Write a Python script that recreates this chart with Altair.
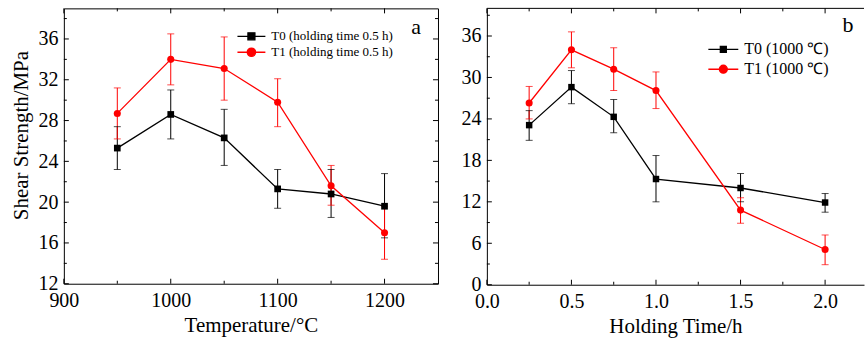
import altair as alt
import pandas as pd

# ---------------- Panel a data (temperature) ----------------
temp = [950, 1000, 1050, 1100, 1150, 1200]
a_t0 = [25.3, 28.6, 26.3, 21.3, 20.8, 19.6]
a_t0_lo = [23.2, 26.2, 23.6, 19.4, 18.5, 16.5]
a_t0_hi = [27.4, 31.0, 29.1, 23.2, 23.2, 22.8]
a_t1 = [28.7, 34.0, 33.1, 29.8, 21.6, 17.0]
a_t1_lo = [26.2, 31.5, 30.0, 27.4, 19.7, 14.4]
a_t1_hi = [31.2, 36.5, 36.2, 32.1, 23.6, 19.6]
a_labels = ["T0 (holding time 0.5 h)", "T1 (holding time 0.5 h)"]

# ---------------- Panel b data (holding time) ----------------
hold = [0.25, 0.5, 0.75, 1.0, 1.5, 2.0]
b_t0 = [23.1, 28.6, 24.3, 15.3, 14.0, 11.9]
b_t0_lo = [20.9, 26.2, 22.0, 12.0, 12.0, 10.5]
b_t0_hi = [25.2, 31.0, 26.8, 18.7, 16.1, 13.2]
b_t1 = [26.3, 34.0, 31.2, 28.1, 10.8, 5.1]
b_t1_lo = [24.0, 31.4, 28.1, 25.5, 8.9, 2.9]
b_t1_hi = [28.7, 36.6, 34.3, 30.8, 12.6, 7.2]
b_labels = ["T0 (1000 \u2103)", "T1 (1000 \u2103)"]

series_ids = ["T0", "T1"]

# ---------------- Axis ticks ----------------
a_x_major = [900, 1000, 1100, 1200]
a_x_minor = [950, 1050, 1150]
a_y_major = [12, 16, 20, 24, 28, 32, 36]
a_y_minor = [14, 18, 22, 26, 30, 34, 38]
b_x_major = [0.0, 0.5, 1.0, 1.5, 2.0]
b_x_minor = [0.25, 0.75, 1.25, 1.75]
b_y_major = [0, 6, 12, 18, 24, 30, 36]
b_y_minor = [3, 9, 15, 21, 27, 33, 39]

colors = ["#000000", "#ff0000"]
FONT = "Liberation Serif"

# legend symbols: line segment with marker (square / circle)
a_paths = [
    "M-1,0L3.667,0M0.75,-0.583L1.917,-0.583L1.917,0.583L0.75,0.583Z",
    "M-1,0L3.667,0M0.633,0A0.7,0.7,0,1,1,2.033,0A0.7,0.7,0,1,1,0.633,0Z",
]
b_paths = [
    "M-1,0L4,0M1,-0.5L2,-0.5L2,0.5L1,0.5Z",
    "M-1,0L4,0M0.833,0A0.667,0.667,0,1,1,2.167,0A0.667,0.667,0,1,1,0.833,0Z",
]


def frame(x, series_vals, los, his, labels):
    rows = []
    for sid, lab, yv, lo, hi in zip(series_ids, labels, series_vals, los, his):
        for xi, a, b, c in zip(x, yv, lo, hi):
            rows.append({"x": xi, "y": a, "lo": b, "hi": c, "series": lab, "sid": sid})
    return pd.DataFrame(rows)


def panel(df, labels, xdom, ydom, W, H, xmaj, xmin, ymaj, ymin, xtitle, ytitle,
          xfmt, paths, leg_x, leg_y, leg_font, leg_offset, leg_rowpad,
          letter, lx, ly, sq_size, ci_size, own_domain, ytitle_y):
    xs = alt.Scale(domain=xdom, nice=False, zero=False)
    ys = alt.Scale(domain=ydom, nice=False, zero=False)
    xaxis = alt.Axis(values=xmaj, format=xfmt, title=xtitle, tickSize=0, grid=False,
                     domain=own_domain, domainColor="black", domainWidth=1,
                     labelPadding=7, labelFlush=False, labelOverlap=False,
                     titlePadding=4)
    yaxis = alt.Axis(values=ymaj, format="d", title=ytitle, tickSize=0, grid=False,
                     domain=own_domain, domainColor="black", domainWidth=1,
                     labelPadding=6, labelFlush=False, labelOverlap=False,
                     titlePadding=6, titleY=ytitle_y)
    cscale = alt.Scale(domain=series_ids, range=colors)
    base = alt.Chart(df)

    def X(f="x"):
        return alt.X(f + ":Q", scale=xs, axis=xaxis, title=xtitle)

    def Y(f):
        return alt.Y(f + ":Q", scale=ys, axis=yaxis, title=ytitle)

    C = alt.Color("sid:N", scale=cscale, legend=None)
    line = base.mark_line(strokeWidth=1.3).encode(x=X(), y=Y("y"), color=C)
    err = base.mark_rule(strokeWidth=1).encode(x=X(), y=Y("lo"), y2="hi:Q", color=C)
    cap_hi = base.mark_tick(orient="horizontal", size=7, thickness=1).encode(
        x=X(), y=Y("hi"), color=C)
    cap_lo = base.mark_tick(orient="horizontal", size=7, thickness=1).encode(
        x=X(), y=Y("lo"), color=C)
    sq = base.transform_filter(alt.datum.sid == "T0").mark_square(
        size=sq_size, color=colors[0], opacity=1).encode(x=X(), y=Y("y"))
    ci = base.transform_filter(alt.datum.sid == "T1").mark_circle(
        size=ci_size, color=colors[1], opacity=1).encode(x=X(), y=Y("y"))
    leg = alt.Legend(orient="none", legendX=leg_x, legendY=leg_y, title=None,
                     symbolSize=144, symbolStrokeWidth=1.3, symbolOpacity=1,
                     labelFont=FONT, labelFontSize=leg_font, labelColor="black",
                     labelOffset=leg_offset, rowPadding=leg_rowpad, padding=0)
    # legend-only layer (no visible marks: all rows filtered out)
    legend_layer = base.transform_filter(alt.datum.y < -1000).mark_point(filled=True).encode(
        x=X(), y=Y("y"),
        fill=alt.Fill("series:N", scale=alt.Scale(domain=labels, range=colors), legend=leg),
        stroke=alt.Stroke("series:N", scale=alt.Scale(domain=labels, range=colors), legend=leg),
        shape=alt.Shape("series:N", scale=alt.Scale(domain=labels, range=paths), legend=leg))

    def xt(vals, y0, y1):
        return alt.Chart(pd.DataFrame({"x": vals})).mark_rule(color="black", strokeWidth=1).encode(
            x=X(), y=alt.value(y0), y2=alt.value(y1))

    def yt(vals, x0, x1):
        return alt.Chart(pd.DataFrame({"y": vals})).mark_rule(color="black", strokeWidth=1).encode(
            y=Y("y"), x=alt.value(x0), x2=alt.value(x1))

    ticks = [
        xt(xmaj, H, H - 5), xt(xmin, H, H - 3), xt(xmaj, 0, 5), xt(xmin, 0, 3),
        yt(ymaj, 0, 5), yt(ymin, 0, 3),
    ]
    text = alt.Chart(pd.DataFrame({"t": [letter]})).mark_text(
        font=FONT, fontSize=22, color="black", align="center", baseline="alphabetic").encode(
        text="t:N", x=alt.value(lx), y=alt.value(ly))
    layers = [line, err, cap_hi, cap_lo, sq, ci, legend_layer, text] + ticks
    if not own_domain:
        layers += [yt(ymaj, W, W - 5), yt(ymin, W, W - 3)]
        view = alt.ViewBackground(stroke="black", strokeWidth=1)
    else:
        top = alt.Chart(pd.DataFrame({"v": [0]})).mark_rule(color="black", strokeWidth=1).encode(
            x=alt.value(0), x2=alt.value(W), y=alt.value(0))
        layers.append(top)
        view = alt.ViewBackground(stroke="transparent")
    return alt.layer(*layers).properties(width=W, height=H, view=view)


dfa = frame(temp, [a_t0, a_t1], [a_t0_lo, a_t1_lo], [a_t0_hi, a_t1_hi], a_labels)
dfb = frame(hold, [b_t0, b_t1], [b_t0_lo, b_t1_lo], [b_t0_hi, b_t1_hi], b_labels)

left = panel(dfa, a_labels, [900, 1250], [12, 39], 375, 276,
             a_x_major, a_x_minor, a_y_major, a_y_minor,
             "Temperature/\u00b0C", "Shear Strength/MPa", "d", a_paths,
             173, 21, 13, 21, 2, "a", 353, 26, 45, 50, False, 127)
right = panel(dfb, b_labels, [0, 2.23], [0, 40], 378, 277,
              b_x_major, b_x_minor, b_y_major, b_y_minor,
              "Holding Time/h", None, ".1f", b_paths,
              220, 33, 16, 22, 4, "b", 362, 24, 42, 50, True, 138)

chart = alt.hconcat(left, right, spacing=21).resolve_scale(
    x="independent", y="independent", color="independent", fill="independent",
    stroke="independent", shape="independent").resolve_legend(
    fill="independent", stroke="independent", shape="independent").properties(
    padding={"left": 10, "top": 7, "right": 0, "bottom": 0}, background="white"
).configure_axis(
    labelFont=FONT, labelFontSize=20, labelColor="black",
    titleFont=FONT, titleFontSize=21, titleFontWeight="normal", titleColor="black"
).configure_view(stroke="black")

chart.save("out.html", embed_options={"renderer": "svg", "actions": False})
